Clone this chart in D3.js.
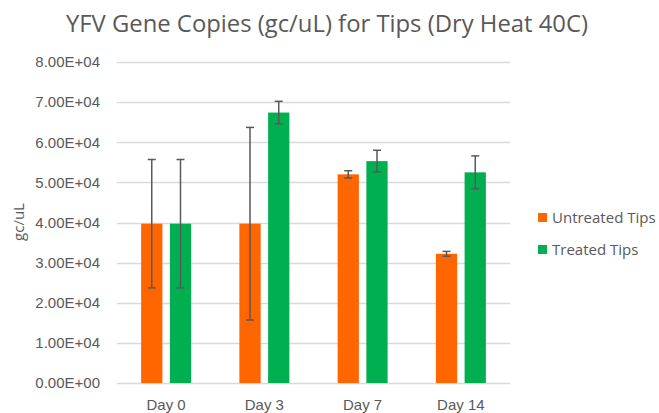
<!DOCTYPE html>
<html>
<head>
<meta charset="utf-8">
<script src="https://cdn.jsdelivr.net/npm/d3@7"></script>
<style>
  body { margin: 0; background: #fff; }
  svg { display: block; font-family: "Open Sans", "Noto Sans", sans-serif; }
</style>
</head>
<body>
<svg id="chart" width="659" height="413"></svg>
<script>
// data
var days = ["Day 0", "Day 3", "Day 7", "Day 14"];
var seriesNames = ["Untreated Tips", "Treated Tips"];
var seriesColors = ["#ff6600", "#00b050"];
var untreated = [39700, 39700, 52000, 32200];
var untreatedErr = [16000, 24000, 900, 600];
var treated = [39700, 67400, 55300, 52500];
var treatedErr = [16000, 2800, 2700, 4100];
var yTicks = [0, 10000, 20000, 30000, 40000, 50000, 60000, 70000, 80000];

var svg = d3.select("#chart");
var margin = {top: 62, left: 117, right: 149, bottom: 30},
    width = +svg.attr("width") - margin.left - margin.right,
    height = +svg.attr("height") - margin.top - margin.bottom;

var series = [
  {name: seriesNames[0], color: seriesColors[0], values: untreated, err: untreatedErr},
  {name: seriesNames[1], color: seriesColors[1], values: treated, err: treatedErr}
];

var x = d3.scaleBand().domain(days).range([0, width]).paddingInner(0).paddingOuter(0);
var x1 = d3.scaleBand().domain(seriesNames).range([x.bandwidth() / 2 - 25, x.bandwidth() / 2 + 25]).paddingInner(0.26).paddingOuter(0);
var y = d3.scaleLinear().domain([0, 80000]).range([height, 0]);

var g = svg.append("g").attr("transform", "translate(" + margin.left + "," + margin.top + ")");

// gridlines
g.append("g")
  .selectAll("line")
  .data(yTicks)
  .enter().append("line")
  .attr("x1", 0).attr("x2", width)
  .attr("y1", function(d) { return Math.round(y(d)) + 0.5; })
  .attr("y2", function(d) { return Math.round(y(d)) + 0.5; })
  .attr("stroke", "#d9d9d9")
  .attr("stroke-width", 1.3);

// y axis labels
var yAxis = g.append("g")
  .call(d3.axisLeft(y).tickValues(yTicks).tickSize(0).tickPadding(17)
    .tickFormat(function(d) { return d.toExponential(2).toUpperCase().replace("E+", "E+0"); }));
yAxis.select(".domain").remove();
yAxis.selectAll("text").attr("fill", "#595959").attr("font-size", "15px");

// x axis labels
var xAxis = g.append("g")
  .attr("transform", "translate(0," + height + ")")
  .call(d3.axisBottom(x).tickSize(0).tickPadding(16));
xAxis.select(".domain").remove();
xAxis.selectAll("text").attr("fill", "#595959").attr("font-size", "15px");

// bars
var groups = g.selectAll(".series")
  .data(series)
  .enter().append("g")
  .attr("class", "series");

groups.selectAll("rect")
  .data(function(s) { return s.values.map(function(v, i) { return {day: days[i], v: v, name: s.name, color: s.color}; }); })
  .enter().append("rect")
  .attr("x", function(d) { return x(d.day) + x1(d.name); })
  .attr("y", function(d) { return y(d.v); })
  .attr("width", x1.bandwidth())
  .attr("height", function(d) { return height - y(d.v); })
  .attr("fill", function(d) { return d.color; });

// error bars
var errs = groups.selectAll(".err")
  .data(function(s) { return s.values.map(function(v, i) { return {day: days[i], v: v, e: s.err[i], name: s.name}; }); })
  .enter().append("g")
  .attr("class", "err")
  .attr("stroke", "#595959")
  .attr("stroke-width", 1.5);

function cx(d) { return x(d.day) + x1(d.name) + x1.bandwidth() / 2; }

errs.append("line")
  .attr("x1", cx).attr("x2", cx)
  .attr("y1", function(d) { return y(d.v + d.e); })
  .attr("y2", function(d) { return y(d.v - d.e); });
errs.append("line")
  .attr("x1", function(d) { return cx(d) - 4; }).attr("x2", function(d) { return cx(d) + 4; })
  .attr("y1", function(d) { return y(d.v + d.e); })
  .attr("y2", function(d) { return y(d.v + d.e); });
errs.append("line")
  .attr("x1", function(d) { return cx(d) - 4; }).attr("x2", function(d) { return cx(d) + 4; })
  .attr("y1", function(d) { return y(d.v - d.e); })
  .attr("y2", function(d) { return y(d.v - d.e); });

// y axis title
svg.append("text")
  .attr("transform", "translate(24,222) rotate(-90)")
  .attr("text-anchor", "middle")
  .attr("fill", "#595959")
  .attr("font-size", "15px")
  .text("gc/uL");

// chart title, sized so it spans roughly x=66..588 like the original
var title = svg.append("text")
  .attr("x", 327)
  .attr("y", 32)
  .attr("text-anchor", "middle")
  .attr("fill", "#595959")
  .attr("font-size", "23px")
  .text("YFV Gene Copies (gc/uL) for Tips (Dry Heat 40C)");
var tw = title.node().getComputedTextLength();
if (tw > 0) title.attr("font-size", (23 * 522 / tw).toFixed(2) + "px");

// legend
var legend = svg.append("g")
  .selectAll("g")
  .data(series)
  .enter().append("g")
  .attr("transform", function(d, i) { return "translate(538," + (213 + i * 32) + ")"; });
legend.append("rect")
  .attr("width", 9).attr("height", 9)
  .attr("fill", function(d) { return d.color; });
legend.append("text")
  .attr("x", 14).attr("y", 10)
  .attr("fill", "#595959")
  .attr("font-size", "15px")
  .text(function(d) { return d.name; });
</script>
</body>
</html>
